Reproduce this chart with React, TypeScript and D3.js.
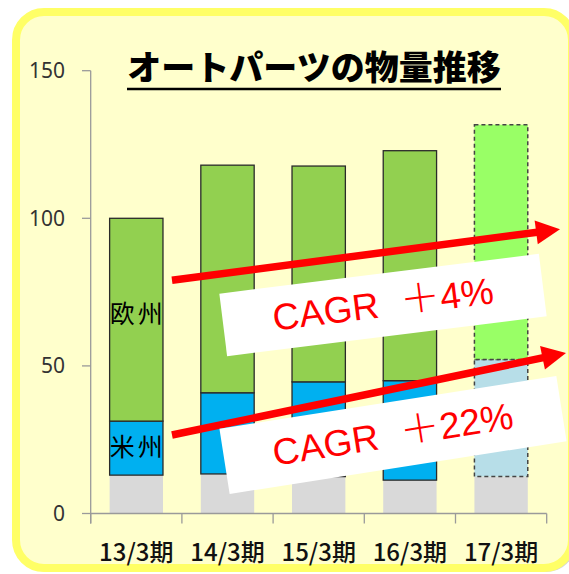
import React from "react";
import * as d3 from "d3";

const categories = ["13/3期", "14/3期", "15/3期", "16/3期", "17/3期"];
const otherValues = [13.0, 13.4, 12.5, 11.3, 12.5];
const americasValues = [18.3, 27.5, 32.1, 33.7, 39.7];
const europeValues = [68.7, 77.1, 73.1, 77.9, 79.5];
const yTicks = [0, 50, 100, 150];
const forecastIndex = 4;
const title = "オートパーツの物量推移";

const seriesKeys = ["other", "americas", "europe"];
const colors: Record<string, string> = { other: "#D9D9D9", americas: "#00B0F0", europe: "#92D050" };
const forecastColors: Record<string, string> = { other: "#D9D9D9", americas: "#B7DEE8", europe: "#99FF66" };

const segmentLabels = [
  { key: "europe", index: 0, text: "欧州", value: 67.5 },
  { key: "americas", index: 0, text: "米州", value: 22.4 },
];

// annotation geometry (arrows: values on y axis, x in px)
const arrows = [
  { x0: 172, v0: 79.0, x1: 560, v1: 96.3 },
  { x0: 172, v0: 26.6, x1: 566, v1: 54.4 },
];
const cagrBoxes = [
  { cx: 383, cy: 305, w: 322, h: 63, angle: -7.1, label: "CAGR", rate: "4%" },
  { cx: 393, cy: 435, w: 341, h: 66, angle: -8.9, label: "CAGR", rate: "22%" },
];

export default function App() {
  const W = 569, H = 574;
  const table = categories.map((c, i) => ({
    category: c,
    other: otherValues[i],
    americas: americasValues[i],
    europe: europeValues[i],
  }));
  const stacked = d3.stack<any>().keys(seriesKeys)(table);

  const x = d3.scaleBand<string>().domain(categories).range([90.7, 546.7]).paddingInner(0.415).paddingOuter(0.2075);
  const y = d3.scaleLinear().domain([0, 150]).range([513.5, 70.7]);
  const step = x.step();
  const bw = x.bandwidth();
  const boundaries = [...categories.map((c) => (x(c) as number) - (step - bw) / 2), (x(categories[categories.length - 1]) as number) + bw + (step - bw) / 2];

  const axisColor = "#9A9A9A";

  return (
    <svg width={W} height={H} style={{ position: "absolute", left: 0, top: 0, background: "#fff" }}>
      {/* frame */}
      <rect x={19} y={15} width={556} height={557} rx={28} fill="#D6D6D6" />
      <rect x={16} y={12} width={556} height={556} rx={28} fill="#FFFFCC" stroke="#FFFF66" strokeWidth={8} />

      {/* title */}
      <text x={314} y={80} textAnchor="middle" fontFamily="'Noto Sans CJK JP', sans-serif" fontWeight={900} fontSize={34} fill="#000">
        {title}
      </text>
      <line x1={127} x2={501} y1={89} y2={89} stroke="#000" strokeWidth={2.5} />

      {/* y axis */}
      <line x1={90.7} x2={90.7} y1={y(150)} y2={y(0) + 10} stroke={axisColor} strokeWidth={1.3} />
      {yTicks.map((t) => (
        <g key={t}>
          <line x1={82} x2={90.7} y1={y(t)} y2={y(t)} stroke={axisColor} strokeWidth={1.3} />
          <text x={65} y={y(t)} dy="0.36em" textAnchor="end" fontFamily="'Noto Sans', sans-serif" fontSize={21} fill="#333">
            {t}
          </text>
        </g>
      ))}

      {/* bars */}
      {stacked.map((s) =>
        s.map((d, i) => {
          const key = s.key;
          const forecast = i === forecastIndex;
          const fill = forecast ? forecastColors[key] : colors[key];
          const stroke = key === "other" ? "none" : forecast ? "#444" : "#2A2A2A";
          return (
            <rect
              key={key + i}
              x={x(categories[i])}
              y={y(d[1])}
              width={bw}
              height={y(d[0]) - y(d[1])}
              fill={fill}
              stroke={stroke}
              strokeWidth={forecast ? 1.5 : 1.3}
              strokeDasharray={forecast ? "4 3" : undefined}
            />
          );
        })
      )}

      {/* x axis */}
      <line x1={90.7} x2={546.7} y1={y(0)} y2={y(0)} stroke={axisColor} strokeWidth={1.3} />
      {boundaries.map((b, i) => (
        <line key={i} x1={b} x2={b} y1={y(0)} y2={y(0) + 10} stroke={axisColor} strokeWidth={1.3} />
      ))}
      {categories.map((c) => (
        <text key={c} x={(x(c) as number) + bw / 2} y={561} textAnchor="middle" fontFamily="'Noto Sans CJK JP', sans-serif" fontWeight={500} fontSize={24} fill="#111">
          {c}
        </text>
      ))}

      {/* segment labels */}
      {segmentLabels.map((l) => (
        <text
          key={l.text}
          x={(x(categories[l.index]) as number) + bw / 2 + 1.5}
          y={y(l.value)}
          dy="0.36em"
          textAnchor="middle"
          fontFamily="'Noto Sans CJK JP', sans-serif"
          fontSize={25}
          letterSpacing={3}
          fill="#000"
        >
          {l.text}
        </text>
      ))}

      {/* arrows */}
      {arrows.map((a, i) => {
        const p0 = [a.x0, y(a.v0)];
        const p1 = [a.x1, y(a.v1)];
        const dx = p1[0] - p0[0], dy = p1[1] - p0[1];
        const len = Math.hypot(dx, dy);
        const ux = dx / len, uy = dy / len;
        const nx = -uy, ny = ux;
        const headL = 24, headW = 12;
        const bx = p1[0] - ux * headL, by = p1[1] - uy * headL;
        return (
          <g key={i}>
            <line x1={p0[0]} y1={p0[1]} x2={bx + ux} y2={by + uy} stroke="#FF0000" strokeWidth={7.5} />
            <polygon
              points={`${p1[0]},${p1[1]} ${bx + nx * headW},${by + ny * headW} ${bx - nx * headW},${by - ny * headW}`}
              fill="#FF0000"
            />
          </g>
        );
      })}

      {/* CAGR boxes */}
      {cagrBoxes.map((b, i) => (
        <g key={i} transform={`translate(${b.cx},${b.cy}) rotate(${b.angle})`}>
          <rect x={-b.w / 2} y={-b.h / 2} width={b.w} height={b.h} fill="#FFFFFF" />
          <text x={0} y={12} textAnchor="middle" fontFamily="'Liberation Sans', Arial, sans-serif" fontSize={37} fill="#FF0000">
            {b.label}
            <tspan dx={22} fontFamily="'Noto Sans CJK JP', sans-serif" fontWeight={300} fontSize={40}>＋</tspan>
            <tspan>{b.rate}</tspan>
          </text>
        </g>
      ))}
    </svg>
  );
}
